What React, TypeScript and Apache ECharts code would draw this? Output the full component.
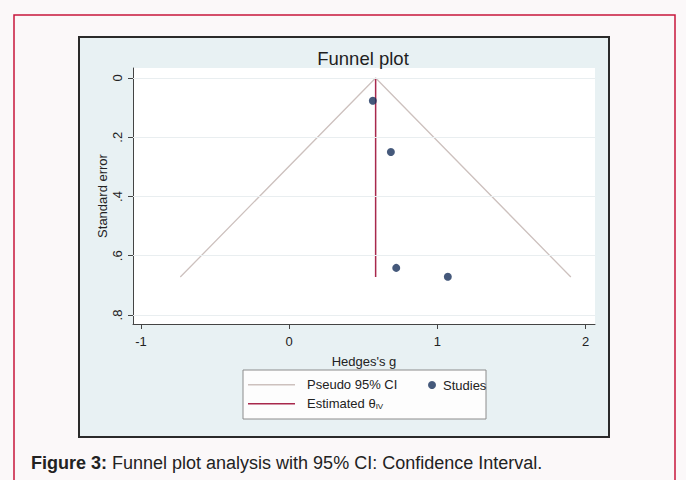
import React, { useEffect, useRef } from "react";
import * as echarts from "echarts";

// Axis ticks
const xTicks = [-1, 0, 1, 2];
const yTicks = [0, 0.2, 0.4, 0.6, 0.8];
const yTickLabels = ["0", ".2", ".4", ".6", ".8"];

// Studies (Hedges's g, standard error)
const studyG = [0.564, 0.686, 0.722, 1.07];
const studySE = [0.077, 0.25, 0.641, 0.671];

// Pseudo 95% CI funnel (left end, apex, right end)
const ciG = [-0.735, 0.583, 1.9];
const ciSE = [0.672, 0, 0.672];

// Estimated theta (IV) vertical line
const thetaG = [0.583, 0.583];
const thetaSE = [0, 0.672];

const FONT = "'Liberation Sans', Arial, Helvetica, sans-serif";

export default function App() {
  const ref = useRef<HTMLDivElement>(null);

  useEffect(() => {
    if (!ref.current) return;
    const chart = echarts.init(ref.current, undefined, { renderer: "svg" });
    const tickFmt = (v: number) => {
      const i = yTicks.findIndex((t) => Math.abs(t - v) < 1e-6);
      return i >= 0 ? yTickLabels[i] : "";
    };
    const axisColor = "#444444";
    const option: any = {
      animation: false,
      backgroundColor: "#fbf8f9",
      textStyle: { fontFamily: FONT },
      graphic: [
        {
          type: "rect",
          z: -10,
          shape: { x: 14, y: 15, width: 661, height: 480 },
          style: { fill: "#fbf8f9", stroke: "#c8163c", lineWidth: 1.5 },
        },
        {
          type: "rect",
          z: -9,
          shape: { x: 79, y: 37, width: 530, height: 400 },
          style: { fill: "#e8f1f3", stroke: "#2a2a2a", lineWidth: 2 },
        },
        {
          type: "rect",
          z: 3,
          shape: { x: 243, y: 370, width: 243, height: 49 },
          style: { fill: "#fdfdfd", stroke: "#8c8c8c", lineWidth: 1 },
        },
        {
          type: "text",
          z: 5,
          x: 363,
          y: 58,
          style: {
            text: "Funnel plot",
            align: "center",
            verticalAlign: "middle",
            fontSize: 18.5,
            fill: "#1e1e1e",
            fontFamily: FONT,
          },
        },
        {
          type: "text",
          z: 5,
          x: 31,
          y: 463,
          style: {
            text: "{b|Figure 3:} Funnel plot analysis with 95% CI: Confidence Interval.",
            verticalAlign: "middle",
            fontSize: 18,
            fill: "#222",
            fontFamily: FONT,
            rich: {
              b: { fontWeight: "bold", fontSize: 18, fill: "#222", fontFamily: FONT },
            },
          },
        },
      ],
      grid: {
        left: 133,
        top: 68,
        width: 462,
        height: 256,
        show: true,
        backgroundColor: "#ffffff",
        borderWidth: 0,
      },
      legend: [
        {
          data: [{ name: "Pseudo 95% CI", icon: "rect" }],
          left: 248,
          top: 378.25,
          padding: 0,
          itemWidth: 47,
          itemHeight: 1.5,
          selectedMode: false,
          textStyle: { fontSize: 13, color: "#222", fontFamily: FONT, padding: [0, 0, 0, 7] },
        },
        {
          data: ["Studies"],
          left: 428,
          top: 378.5,
          padding: 0,
          itemWidth: 8,
          itemHeight: 8,
          selectedMode: false,
          textStyle: { fontSize: 13, color: "#222", fontFamily: FONT, padding: [0, 0, 0, 2] },
        },
        {
          data: [{ name: "Estimated θIV", icon: "rect" }],
          left: 248,
          top: 397.25,
          padding: 0,
          itemWidth: 47,
          itemHeight: 1.5,
          selectedMode: false,
          formatter: (n: string) => (n === "Estimated θIV" ? "Estimated θ{s|IV}" : n),
          textStyle: {
            fontSize: 13,
            color: "#222",
            fontFamily: FONT,
            padding: [0, 0, 0, 7],
            rich: {
              s: { fontSize: 8, color: "#222", fontFamily: FONT, verticalAlign: "bottom", padding: [6, 0, 0, 0] },
            },
          },
        },
      ],
      xAxis: {
        type: "value",
        min: -1.054,
        max: 2.063,
        name: "Hedges's g",
        nameLocation: "middle",
        nameGap: 31,
        nameMoveOverlap: false,
        nameTextStyle: { fontSize: 13, color: "#222", fontFamily: FONT },
        axisLine: { show: true, onZero: false, lineStyle: { color: axisColor, width: 1 } },
        axisTick: { show: true, length: 5, customValues: xTicks, lineStyle: { color: axisColor } },
        axisLabel: {
          customValues: xTicks,
          formatter: (v: number) => String(v),
          fontSize: 13,
          color: "#222",
          margin: 11,
          fontFamily: FONT,
        },
        splitLine: { show: false },
      },
      yAxis: {
        type: "value",
        inverse: true,
        min: -0.0338,
        max: 0.8304,
        name: "Standard error",
        nameLocation: "middle",
        nameGap: 24,
        nameMoveOverlap: false,
        nameRotate: 90,
        nameTextStyle: { fontSize: 13, color: "#222", fontFamily: FONT },
        axisLine: { show: true, onZero: false, lineStyle: { color: axisColor, width: 1 } },
        axisTick: { show: true, length: 5, customValues: yTicks, lineStyle: { color: axisColor } },
        axisLabel: {
          customValues: yTicks,
          formatter: tickFmt,
          rotate: 90,
          fontSize: 13,
          color: "#222",
          margin: 9,
          fontFamily: FONT,
        },
        splitLine: { show: false },
      },
      series: [
        {
          name: "grid",
          type: "line",
          data: [],
          z: 1,
          silent: true,
          markLine: {
            silent: true,
            symbol: "none",
            label: { show: false },
            lineStyle: { color: "#e9eef0", width: 1, type: "solid" },
            data: yTicks.map((v) => ({ yAxis: v })),
          },
        },
        {
          name: "Pseudo 95% CI",
          type: "line",
          data: ciG.map((g, i) => [g, ciSE[i]]),
          symbol: "none",
          z: 2,
          lineStyle: { color: "#cdc1be", width: 1.3 },
          itemStyle: { color: "#cdc1be" },
        },
        {
          name: "Estimated θIV",
          type: "line",
          data: thetaG.map((g, i) => [g, thetaSE[i]]),
          symbol: "none",
          z: 3,
          lineStyle: { color: "#a8284c", width: 1.5 },
          itemStyle: { color: "#a8284c" },
        },
        {
          name: "Studies",
          type: "scatter",
          data: studyG.map((g, i) => [g, studySE[i]]),
          symbol: "circle",
          symbolSize: 8,
          z: 4,
          itemStyle: { color: "#17305a" },
        },
      ],
    };
    chart.setOption(option);
    return () => chart.dispose();
  }, []);

  return (
    <div
      ref={ref}
      style={{ position: "absolute", left: 0, top: 0, width: 686, height: 480 }}
    />
  );
}
